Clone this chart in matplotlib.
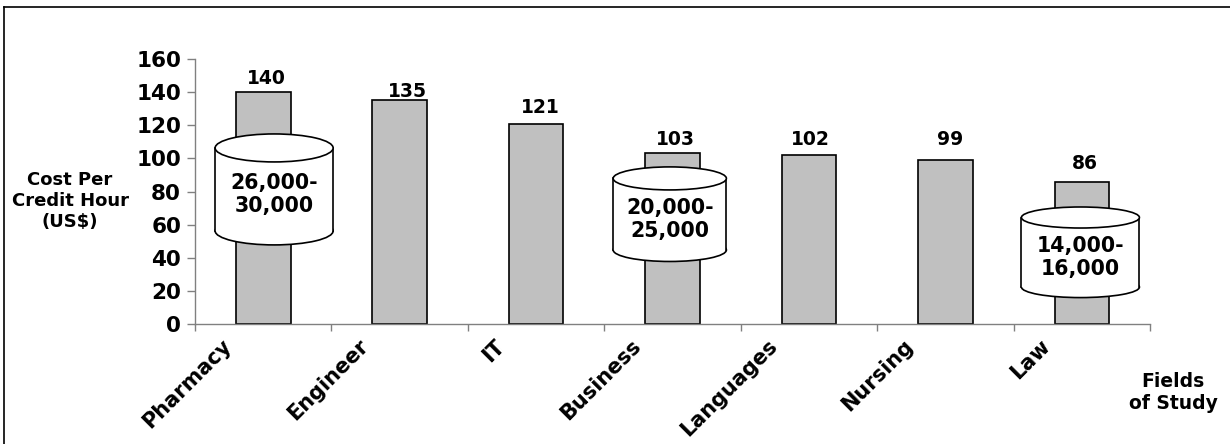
import matplotlib
matplotlib.use("Agg")
import matplotlib.pyplot as plt
from matplotlib.patches import Ellipse, Rectangle
from matplotlib.lines import Line2D
import numpy as np

# ---- data ----
fields = ["Pharmacy", "Engineer", "IT", "Business", "Languages", "Nursing", "Law"]
cost_per_credit = [140, 135, 121, 103, 102, 99, 86]
salary_fields = ["Pharmacy", "Business", "Law"]
salary_ranges = ["26,000-\n30,000", "20,000-\n25,000", "14,000-\n16,000"]
y_ticks = [0, 20, 40, 60, 80, 100, 120, 140, 160]

# ---- layout (not data) ----
W, H = 1230, 444
# value label offsets in pixels (dx, dy of text centre above bar top)
lab_dx = [3, 8, 4, 3, 1, 5, 3]
lab_dy = [14, 9, 16, 13.5, 16, 21, 18.5]
# cylinder geometry: (x centre, width, top y, bottom y, ellipse height) in data units
cyl_geom = [(0.08, 0.865, 106.3, 56.2, 16.9),
            (2.98, 0.83, 87.9, 44.7, 13.9),
            (5.99, 0.865, 64.3, 22.3, 12.7)]

FONT = "DejaVu Sans"
plt.rcParams["font.family"] = [FONT]

fig = plt.figure(figsize=(W / 100, H / 100), dpi=100)
fig.patch.set_facecolor("white")

left_px, right_px, bottom_px, top_px = 195, 1150, 324, 59
ax = fig.add_axes([left_px / W, 1 - bottom_px / H,
                   (right_px - left_px) / W, (bottom_px - top_px) / H])

x = np.arange(len(fields))
bars = ax.bar(x, cost_per_credit, width=0.4, color="#C0C0C0",
              edgecolor="black", linewidth=1.2, zorder=2)

ax.set_xlim(-0.5, len(fields) - 0.5)
ax.set_ylim(0, 160)

for s in ["top", "right"]:
    ax.spines[s].set_visible(False)
for s in ["left", "bottom"]:
    ax.spines[s].set_color("#808080")
    ax.spines[s].set_linewidth(1.0)

ax.set_yticks(y_ticks)
ax.set_yticklabels([str(v) for v in y_ticks], fontsize=15.5, fontweight="bold")
ax.tick_params(axis="y", direction="out", length=6, width=1, color="#808080", pad=4)

ax.set_xticks(x)
ax.set_xticklabels([])
ax.set_xticks(np.arange(-0.5, len(fields)), minor=True)
ax.tick_params(axis="x", which="major", length=0)
ax.tick_params(axis="x", which="minor", direction="out", length=5, width=1, color="#808080")

# rotated category labels
for xi, name in zip(x, fields):
    ax.annotate(name, xy=(xi, 0), xycoords="data", xytext=(-42, -12),
                textcoords="offset pixels", rotation=45, rotation_mode="anchor",
                ha="right", va="top", fontsize=15, fontweight="bold",
                annotation_clip=False)

# value labels
for xi, v, dx, dy in zip(x, cost_per_credit, lab_dx, lab_dy):
    ax.annotate(str(v), xy=(xi, v), xytext=(dx, dy), textcoords="offset pixels",
                ha="center", va="center", fontsize=13.5, fontweight="bold",
                zorder=5)

# cylinders with salary ranges
for (cx, cw, ty, by, eh), txt in zip(cyl_geom, salary_ranges):
    lw = 1.2
    bottom_e = Ellipse((cx, by), cw, eh, facecolor="white", edgecolor="black",
                       linewidth=lw, zorder=3)
    body = Rectangle((cx - cw / 2, by), cw, ty - by, facecolor="white",
                     edgecolor="none", zorder=3.1)
    top_e = Ellipse((cx, ty), cw, eh, facecolor="white", edgecolor="black",
                    linewidth=lw, zorder=3.3)
    ax.add_patch(bottom_e)
    ax.add_patch(body)
    ax.add_patch(top_e)
    for sx in (cx - cw / 2, cx + cw / 2):
        ax.add_line(Line2D([sx, sx], [by, ty], color="black", linewidth=lw,
                           zorder=3.2))
    mid = (ty + by) / 2
    ax.annotate(txt, xy=(cx, mid), xytext=(0, -5), textcoords="offset pixels",
                ha="center", va="center", multialignment="center",
                fontsize=14.8, fontweight="bold", zorder=4)

# axis titles
fig.text(70 / W, 1 - 201 / H, "Cost Per\nCredit Hour\n(US$)", ha="center",
         va="center", multialignment="center", fontsize=13, fontweight="bold")
fig.text(1173 / W, 1 - 392 / H, "Fields\nof Study", ha="center", va="center",
         multialignment="center", fontsize=13.5, fontweight="bold")

# outer frame (top and left edges visible)
fig.add_artist(Line2D([3.5 / W, 1.0], [1 - 7 / H, 1 - 7 / H], color="black",
                      linewidth=1.2, transform=fig.transFigure))
fig.add_artist(Line2D([3.5 / W, 3.5 / W], [1 - 7 / H, 0.0], color="black",
                      linewidth=1.2, transform=fig.transFigure))

fig.savefig("out.png", dpi=100)
